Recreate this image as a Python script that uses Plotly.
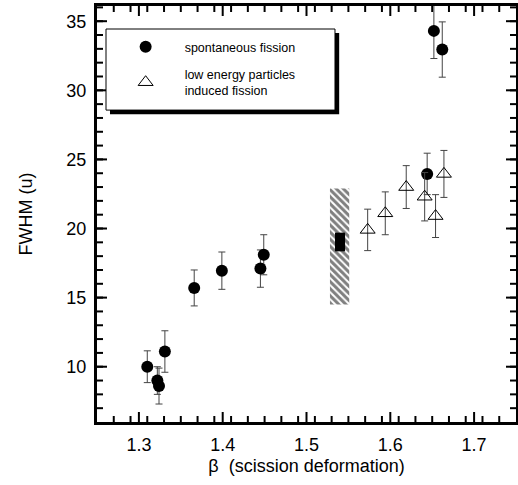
import plotly.graph_objects as go

# spontaneous fission (filled circles)
sf_beta = [1.310, 1.331, 1.322, 1.324, 1.366, 1.399, 1.445, 1.449, 1.644, 1.652, 1.662]
sf_fwhm = [10.0, 11.1, 9.0, 8.6, 15.7, 16.95, 17.1, 18.1, 23.95, 34.3, 32.95]
sf_err = [1.15, 1.5, 1.0, 1.3, 1.3, 1.35, 1.35, 1.45, 1.5, 2.0, 2.0]

# low energy particles induced fission (open triangles)
ind_beta = [1.573, 1.594, 1.619, 1.641, 1.654, 1.664]
ind_fwhm = [19.9, 21.1, 23.0, 22.3, 20.9, 23.95]
ind_err = [1.5, 1.55, 1.55, 1.75, 1.55, 1.7]

# hatched band and black box
band_beta = [1.528, 1.551]
band_fwhm = [14.5, 22.9]
box_beta = [1.534, 1.546]
box_fwhm = [18.35, 19.7]

# axes
x_range = [1.25, 1.75]
y_range = [6, 36.1]
x_ticks = [1.3, 1.4, 1.5, 1.6, 1.7]
y_ticks = [10, 15, 20, 25, 30, 35]
x_minor_step = 0.02
y_minor_step = 1

FONT = "Liberation Sans, Arial, Helvetica, sans-serif"
W, H = 518, 485
M = dict(l=97, r=2, t=6, b=63)
MAJOR_LEN, MINOR_LEN = 10, 6


def rect(xs, ys):
    return ([xs[0], xs[1], xs[1], xs[0], xs[0]], [ys[0], ys[0], ys[1], ys[1], ys[0]])


fig = go.Figure()

bx, by = rect(band_beta, band_fwhm)
fig.add_trace(go.Scatter(
    x=bx, y=by, mode="lines", fill="toself", showlegend=False,
    line=dict(width=0, color="rgba(0,0,0,0)"),
    fillcolor="white",
    fillpattern=dict(shape="\\", fgcolor="black", bgcolor="white", size=5, solidity=0.6),
    hoverinfo="skip"))

kx, ky = rect(box_beta, box_fwhm)
fig.add_trace(go.Scatter(
    x=kx, y=ky, mode="lines", fill="toself", showlegend=False,
    line=dict(width=0, color="black"), fillcolor="black", hoverinfo="skip"))

# inward minor/major tick marks on all four sides, drawn through the axes' own scales
px_x = (x_range[1] - x_range[0]) / (W - M["l"] - M["r"])
px_y = (y_range[1] - y_range[0]) / (H - M["t"] - M["b"])
n_xm = int(round((x_range[1] - x_range[0]) / x_minor_step))
x_minor = [round(x_range[0] + i * x_minor_step, 4) for i in range(1, n_xm)]
y_minor = list(range(int(y_range[0]) + 1, int(y_range[1]) + 1, y_minor_step))

tx, ty = [], []
for vals, length in ((x_minor, MINOR_LEN), (x_ticks, MAJOR_LEN)):
    for v in vals:
        tx += [v, v, None, v, v, None]
        ty += [y_range[0], y_range[0] + length * px_y, None,
               y_range[1], y_range[1] - length * px_y, None]
for vals, length in ((y_minor, MINOR_LEN), (y_ticks, MAJOR_LEN)):
    for v in vals:
        tx += [x_range[0], x_range[0] + length * px_x, None,
               x_range[1], x_range[1] - length * px_x, None]
        ty += [v, v, None, v, v, None]
fig.add_trace(go.Scatter(x=tx, y=ty, mode="lines", showlegend=False, hoverinfo="skip",
                         line=dict(color="black", width=2), connectgaps=False))

err_style = dict(type="data", thickness=1, width=3.5, color="#444")

fig.add_trace(go.Scatter(
    x=sf_beta, y=sf_fwhm, mode="markers",
    name="spontaneous fission",
    legendgroup="a", legendrank=1,
    marker=dict(symbol="circle", size=12, color="black"),
    error_y=dict(array=sf_err, **err_style)))

fig.add_trace(go.Scatter(
    x=ind_beta, y=ind_fwhm, mode="markers",
    name="low energy particles<br>induced fission",
    legendgroup="b", legendrank=2,
    marker=dict(symbol="triangle-up-open", size=13, color="black", line=dict(width=1, color="black")),
    error_y=dict(array=ind_err, **err_style)))

fig.update_xaxes(
    showline=True, linewidth=3, linecolor="black", mirror=True,
    ticks="", showgrid=False, zeroline=False, automargin=False,
    tickfont=dict(family=FONT, size=18, color="black"),
    range=x_range, tickvals=x_ticks, ticktext=[f"{v:.1f}" for v in x_ticks],
    ticklabelstandoff=4,
    title=dict(text="β  (scission deformation)", font=dict(family=FONT, size=18, color="black"), standoff=6),
)

fig.update_yaxes(
    showline=True, linewidth=3, linecolor="black", mirror=True,
    ticks="", showgrid=False, zeroline=False, automargin=False,
    tickfont=dict(family=FONT, size=18, color="black"),
    range=y_range, tickvals=y_ticks,
    ticklabelstandoff=4,
    title=dict(text="FWHM (u)", font=dict(family=FONT, size=18, color="black"), standoff=30),
)

# legend box with shadow
fig.add_shape(type="rect", xref="paper", yref="paper",
              x0=0.031, x1=0.578, y0=0.740, y1=0.935,
              fillcolor="black", line=dict(width=0), layer="above")
fig.add_shape(type="rect", xref="paper", yref="paper",
              x0=0.0215, x1=0.568, y0=0.7498, y1=0.9447,
              fillcolor="white", line=dict(width=1, color="black"), layer="above")

fig.update_layout(
    width=W, height=H,
    margin=M,
    paper_bgcolor="white", plot_bgcolor="white",
    font=dict(family=FONT, color="black"),
    showlegend=True,
    legend=dict(
        x=0.023, y=0.937, xanchor="left", yanchor="top",
        bgcolor="rgba(0,0,0,0)", borderwidth=0,
        font=dict(family=FONT, size=12.5, color="black"),
        itemwidth=68, traceorder="grouped", tracegroupgap=8,
        itemsizing="trace", valign="middle",
    ),
)

fig.write_html("out.html", config={"displayModeBar": False},
               post_script="document.body.style.margin='0';document.body.style.overflow='hidden';")
